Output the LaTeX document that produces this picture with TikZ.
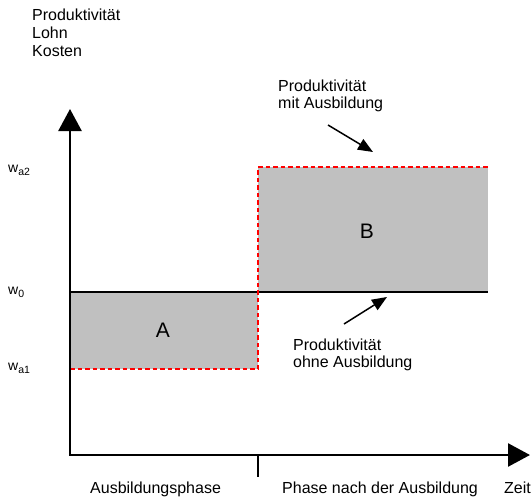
\documentclass[tikz,border=0pt]{standalone}
\usepackage{fontspec}
\setmainfont{Liberation Sans}
\usetikzlibrary{arrows.meta}
\definecolor{boxgray}{HTML}{C0C0C0}
\newcommand{\wsub}[1]{w\raisebox{-3pt}{\fontsize{10.5}{11}\selectfont #1}}
\begin{document}
\begin{tikzpicture}[x=1pt,y=-1pt,
  lbl/.style={anchor=base west, inner sep=0pt, font=\fontsize{16}{17.7}\selectfont},
  wlbl/.style={anchor=base west, inner sep=0pt, font=\fontsize{14}{15}\selectfont},
  big/.style={inner sep=0pt, font=\fontsize{21}{24}\selectfont},
  axis/.style={line width=2.6pt, line join=miter,
    {Triangle[length=22pt,width=23pt]}-{Triangle[length=22pt,width=23pt]}},
  pointer/.style={line width=1.5pt, -{Triangle[length=15pt,width=12pt]}},
  reddash/.style={draw=red, line width=2pt, dash pattern=on 4.5pt off 3pt},
  area/.style={fill=boxgray},
  wline/.style={line width=1.4pt},
]
\useasboundingbox (0,0) rectangle (531,501);

% shaded areas
\fill[area] (70,292) rectangle (258,369);
\fill[area] (258,167) rectangle (488,292);

% w0 line
\coordinate (w0l) at (70,292);
\coordinate (w0r) at (488,292);
\draw[wline] (w0l) -- (w0r);

% red dashed productivity with training
\coordinate (r1) at (70,369);
\coordinate (r2) at (258,369);
\coordinate (r3) at (258,167);
\coordinate (r4) at (488,167);
\draw[reddash] (r1) -- (r2) -- (r3) -- (r4);

% axes
\coordinate (ytip) at (70,109);
\coordinate (O) at (70,455);
\coordinate (xtip) at (530,455);
\draw[axis] (ytip) -- (O) -- (xtip);

% tick
\coordinate (tk1) at (258,455);
\coordinate (tk2) at (258,477);
\draw[wline] (tk1) -- (tk2);

% labels on axis
\node[lbl] (yl1) at (32,20.5) {Produktivität};
\node[lbl] (yl2) at (32,38.2) {Lohn};
\node[lbl] (yl3) at (32,56) {Kosten};

\node[wlbl] (wa2) at (8,172) {\wsub{a2}};
\node[wlbl] (w0) at (8,294) {\wsub{0}};
\node[wlbl] (wa1) at (8,370) {\wsub{a1}};

\node[lbl] (ph1) at (90,493) {Ausbildungsphase};
\node[lbl] (ph2) at (282,493) {Phase nach der Ausbildung};
\node[lbl] (zeit) at (504,493) {Zeit};

% area labels
\node[big] (A) at (163,330) {A};
\node[big] (B) at (367,231) {B};

% annotations
\node[lbl] (m1) at (278,91.5) {Produktivität};
\node[lbl] (m2) at (278,108) {mit Ausbildung};
\node[lbl] (o1) at (293,350) {Produktivität};
\node[lbl] (o2) at (293,367) {ohne Ausbildung};

\coordinate (p1s) at (328,125);
\coordinate (p1e) at (373,152);
\draw[pointer] (p1s) -- (p1e);
\coordinate (p2s) at (344,324);
\coordinate (p2e) at (387,297);
\draw[pointer] (p2s) -- (p2e);
\end{tikzpicture}
\end{document}
